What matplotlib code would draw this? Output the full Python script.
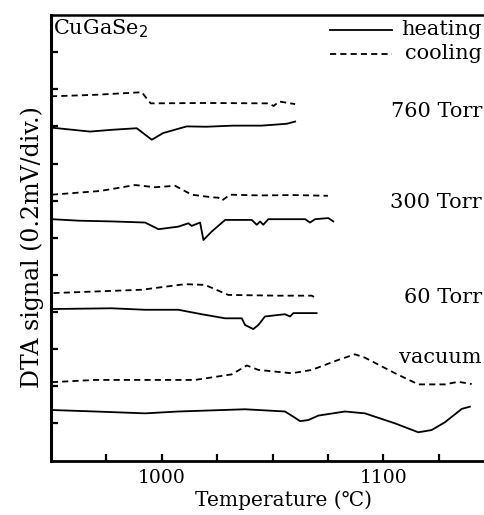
import matplotlib
matplotlib.use('Agg')
import matplotlib.pyplot as plt
import numpy as np

plt.rcParams['font.family'] = ['DejaVu Serif', 'DejaVu Sans']

# curves: temperature (C), signal (divisions)
t_760_cool = [950.0, 970.0, 991.0, 993.2, 995.0, 1020.0, 1048.0, 1050.5, 1053.0, 1060.2]
s_760_cool = [9.81, 9.85, 9.92, 9.75, 9.62, 9.63, 9.62, 9.55, 9.67, 9.60]
t_760_heat = [949.6, 967.6, 978.0, 988.7, 995.5, 1000.6, 1011.3, 1020.0, 1032.2, 1045.0, 1056.4, 1060.2]
s_760_heat = [8.97, 8.86, 8.91, 8.95, 8.64, 8.82, 9.00, 8.99, 9.02, 9.02, 9.07, 9.13]

t_300_cool = [950.4, 972.2, 988.0, 997.0, 1006.0, 1013.5, 1022.6, 1025.5, 1027.1, 1030.8, 1044.4, 1060.0, 1075.0]
s_300_cool = [7.16, 7.26, 7.42, 7.36, 7.40, 7.16, 7.09, 7.08, 7.00, 7.16, 7.14, 7.15, 7.13]
t_300_heat = [950.4, 962.4, 977.4, 992.5, 998.5, 1007.5, 1012.0, 1013.5, 1017.3, 1018.8, 1022.6, 1028.6,
              1040.6, 1042.9, 1044.4, 1045.8, 1048.1, 1064.7, 1066.9, 1069.2, 1075.2, 1077.4]
s_300_heat = [6.50, 6.46, 6.44, 6.41, 6.23, 6.30, 6.39, 6.32, 6.41, 5.94, 6.17, 6.48,
              6.48, 6.35, 6.44, 6.35, 6.50, 6.50, 6.41, 6.50, 6.53, 6.44]

t_60_cool = [951.1, 991.0, 1010.5, 1019.5, 1030.0, 1052.6, 1067.7, 1069.2]
s_60_cool = [4.51, 4.60, 4.75, 4.73, 4.46, 4.44, 4.44, 4.39]
t_60_heat = [950.4, 977.4, 992.5, 1007.5, 1018.0, 1028.6, 1036.1, 1037.6, 1041.3, 1043.6, 1046.6,
             1055.6, 1057.9, 1059.4, 1069.9]
s_60_heat = [4.08, 4.10, 4.06, 4.06, 3.94, 3.83, 3.83, 3.65, 3.54, 3.65, 3.88,
             3.94, 3.88, 3.97, 3.97]

t_vac_cool = [950.4, 969.9, 1015.0, 1031.6, 1038.4, 1043.6, 1058.7, 1067.7, 1079.7, 1087.2, 1091.7,
              1105.3, 1115.8, 1127.8, 1133.8, 1139.9]
s_vac_cool = [2.11, 2.17, 2.17, 2.32, 2.56, 2.44, 2.35, 2.44, 2.71, 2.86, 2.77,
              2.35, 2.05, 2.05, 2.12, 2.06]
t_vac_heat = [950.4, 969.9, 992.5, 1007.5, 1037.6, 1055.6, 1059.4, 1062.4, 1066.2, 1070.7, 1082.7,
              1091.7, 1105.3, 1115.8, 1121.8, 1127.8, 1135.4, 1139.1]
s_vac_heat = [1.36, 1.32, 1.27, 1.32, 1.38, 1.32, 1.18, 1.06, 1.09, 1.21, 1.32,
              1.27, 1.00, 0.76, 0.82, 1.03, 1.39, 1.45]

pressure_labels = ['760 Torr', '300 Torr', '60 Torr', 'vacuum']
pressure_label_y = [9.4, 6.95, 4.4, 2.78]

x_ticks = [975, 1000, 1025, 1050, 1075, 1100, 1125]
x_ticklabels = ['', '1000', '', '', '', '1100', '']

fig = plt.figure(figsize=(4.85, 5.15), dpi=100)
ax = fig.add_axes([51 / 485, 1 - 460.5 / 515, 432 / 485, 445.5 / 515])

dash = (0, (3.4, 2.3))
lw = 1.3
for t, s in [(t_760_heat, s_760_heat), (t_300_heat, s_300_heat),
             (t_60_heat, s_60_heat), (t_vac_heat, s_vac_heat)]:
    ax.plot(t, s, color='black', lw=lw)
for t, s in [(t_760_cool, s_760_cool), (t_300_cool, s_300_cool),
             (t_60_cool, s_60_cool), (t_vac_cool, s_vac_cool)]:
    ax.plot(t, s, color='black', lw=lw, linestyle=dash)

ax.set_xlim(950, 1145)
ax.set_ylim(0, 12)

ax.set_xticks(x_ticks)
ax.set_xticklabels(x_ticklabels, fontsize=13.5)
ax.set_yticks(np.arange(1, 12))
ax.set_yticklabels([])
ax.tick_params(axis='both', direction='in', length=5, width=1.6, pad=6)

ax.spines['right'].set_visible(False)
ax.spines['left'].set_linewidth(2.2)
ax.spines['bottom'].set_linewidth(2.0)
ax.spines['top'].set_linewidth(1.8)

ax.set_xlabel('Temperature (\u2103)', fontsize=14.5)
ax.set_ylabel('DTA signal (0.2mV/div.)', fontsize=17, va='center')
ax.yaxis.set_label_coords(-0.044, 0.478)
ax.xaxis.set_label_coords(0.539, -0.068)

ax.text(0.005, 0.995, 'CuGaSe$_2$', transform=ax.transAxes, fontsize=15,
        ha='left', va='top')

# legend drawn by hand at the top right
ax.plot([1076, 1104], [11.6, 11.6], color='black', lw=lw)
ax.plot([1076, 1104], [10.95, 10.95], color='black', lw=lw, linestyle=dash)
ax.text(1144.5, 11.6, 'heating', fontsize=15, ha='right', va='center')
ax.text(1144.5, 10.95, 'cooling', fontsize=15, ha='right', va='center')

for lab, yy in zip(pressure_labels, pressure_label_y):
    ax.text(1144.5, yy, lab, fontsize=15, ha='right', va='center')

fig.savefig('out.png', dpi=100)
